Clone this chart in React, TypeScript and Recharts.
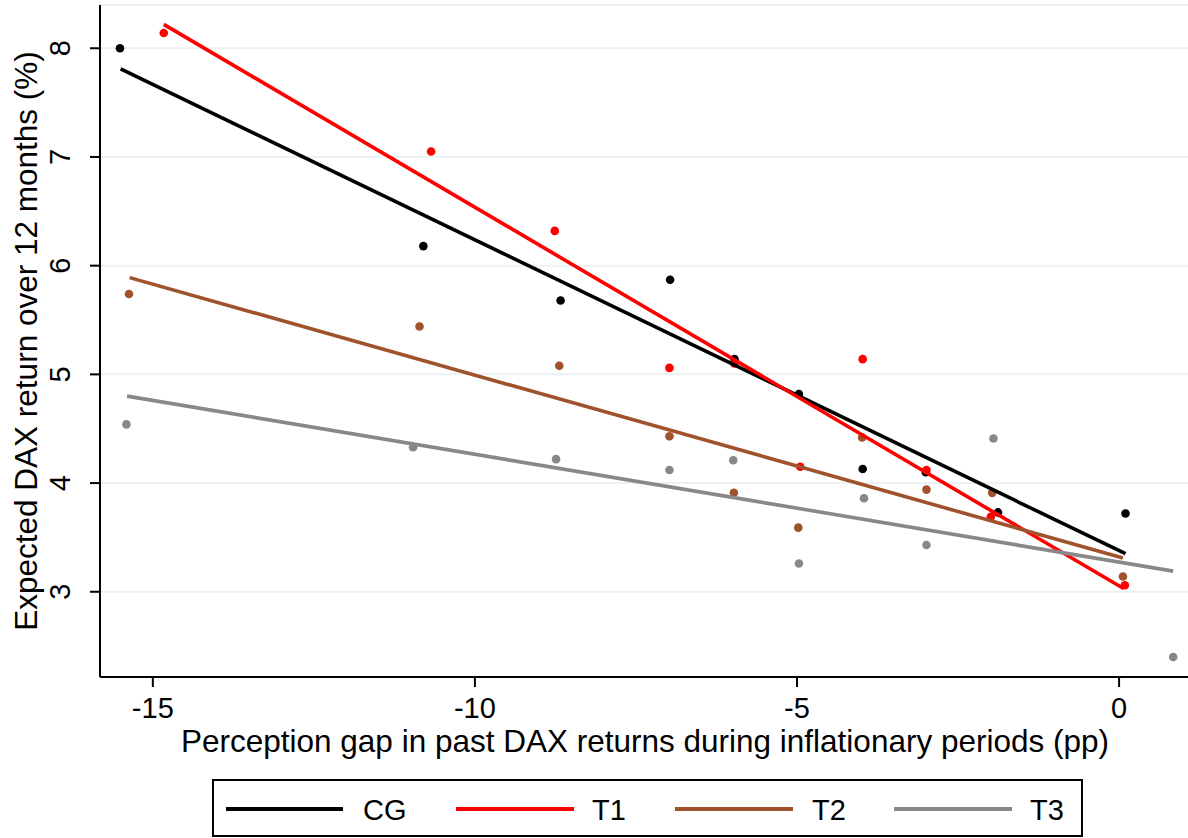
import { CartesianGrid, ComposedChart, Line, Scatter, XAxis, YAxis } from 'recharts';

// Expected DAX return vs. perception gap, by treatment group.
// Dots = group means per bin, lines = linear fits (endpoints).

const xTicks = [-15, -10, -5, 0];
const yTicks = [3, 4, 5, 6, 7, 8];

const cgPoints = [
  { x: -15.51, y: 8.0 },
  { x: -10.8, y: 6.18 },
  { x: -8.67, y: 5.68 },
  { x: -6.97, y: 5.87 },
  { x: -5.97, y: 5.14 },
  { x: -4.97, y: 4.82 },
  { x: -3.98, y: 4.13 },
  { x: -3.0, y: 4.1 },
  { x: -1.88, y: 3.73 },
  { x: 0.1, y: 3.72 },
];
const t1Points = [
  { x: -14.83, y: 8.14 },
  { x: -10.68, y: 7.05 },
  { x: -8.76, y: 6.32 },
  { x: -6.98, y: 5.06 },
  { x: -5.97, y: 5.1 },
  { x: -4.95, y: 4.15 },
  { x: -3.98, y: 5.14 },
  { x: -2.99, y: 4.12 },
  { x: -1.99, y: 3.69 },
  { x: 0.09, y: 3.06 },
];
const t2Points = [
  { x: -15.37, y: 5.74 },
  { x: -10.86, y: 5.44 },
  { x: -8.69, y: 5.08 },
  { x: -6.98, y: 4.43 },
  { x: -5.98, y: 3.91 },
  { x: -4.98, y: 3.59 },
  { x: -3.99, y: 4.42 },
  { x: -2.99, y: 3.94 },
  { x: -1.97, y: 3.91 },
  { x: 0.06, y: 3.14 },
];
const t3Points = [
  { x: -15.41, y: 4.54 },
  { x: -10.96, y: 4.33 },
  { x: -8.74, y: 4.22 },
  { x: -6.98, y: 4.12 },
  { x: -5.99, y: 4.21 },
  { x: -4.97, y: 3.26 },
  { x: -3.96, y: 3.86 },
  { x: -2.99, y: 3.43 },
  { x: -1.95, y: 4.41 },
  { x: 0.84, y: 2.4 },
];

// fitted lines, start and end
const cgFit = [{ x: -15.5, y: 7.81 }, { x: 0.1, y: 3.35 }];
const t1Fit = [{ x: -14.83, y: 8.22 }, { x: 0.07, y: 3.03 }];
const t2Fit = [{ x: -15.36, y: 5.89 }, { x: 0.06, y: 3.31 }];
const t3Fit = [{ x: -15.4, y: 4.8 }, { x: 0.84, y: 3.19 }];

const groups = [
  { name: 'CG', color: '#000000', points: cgPoints, fit: cgFit },
  { name: 'T1', color: '#ff0000', points: t1Points, fit: t1Fit },
  { name: 'T2', color: '#a0522d', points: t2Points, fit: t2Fit },
  { name: 'T3', color: '#888888', points: t3Points, fit: t3Fit },
];

const FONT = '"Liberation Sans", Arial, sans-serif';
const FS = 29; // tick labels, legend
const TFS = 31.5; // axis titles

// legend item x positions (line start, line end, text start)
const legendPos = [
  [226, 343, 363],
  [456, 574, 592],
  [675, 793, 812],
  [894, 1012, 1030],
];

export default function App() {
  return (
    <div style={{ position: 'absolute', left: 0, top: 0, width: 1188, height: 838, background: '#fff', fontFamily: FONT }}>
      <ComposedChart width={1188} height={838} margin={{ top: 5, right: 0, bottom: 0, left: 0 }}>
        <CartesianGrid vertical={false} stroke="#eaf2f3" strokeWidth={2} />
        <XAxis
          type="number"
          dataKey="x"
          domain={[-15.82, 1.07]}
          ticks={xTicks}
          allowDataOverflow
          height={161}
          tickSize={10}
          axisLine={{ stroke: '#000', strokeWidth: 2 }}
          tickLine={{ stroke: '#000', strokeWidth: 2 }}
          tick={(p: any) => (
            <text x={p.x} y={718} textAnchor="middle" fontSize={FS} fontFamily={FONT} fill="#000">
              {String(p.payload.value)}
            </text>
          )}
          label={{
            content: () => (
              <text x={645} y={752} textAnchor="middle" fontSize={TFS} fontFamily={FONT} fill="#000">
                Perception gap in past DAX returns during inflationary periods (pp)
              </text>
            ),
          }}
        />
        <YAxis
          type="number"
          dataKey="y"
          domain={[2.216, 8.398]}
          ticks={yTicks}
          allowDataOverflow
          width={100}
          tickSize={10}
          axisLine={{ stroke: '#000', strokeWidth: 2 }}
          tickLine={{ stroke: '#000', strokeWidth: 2 }}
          tick={(p: any) => (
            <text
              x={70}
              y={p.y}
              transform={`rotate(-90 70 ${p.y})`}
              textAnchor="middle"
              fontSize={FS}
              fontFamily={FONT}
              fill="#000"
            >
              {String(p.payload.value)}
            </text>
          )}
          label={{
            content: () => (
              <text
                x={37}
                y={341}
                transform="rotate(-90 37 341)"
                textAnchor="middle"
                fontSize={TFS}
                fontFamily={FONT}
                fill="#000"
              >
                Expected DAX return over 12 months (%)
              </text>
            ),
          }}
        />
        {groups.map((g) => (
          <Scatter
            key={'s' + g.name}
            name={g.name}
            data={g.points}
            isAnimationActive={false}
            zIndex={350}
            shape={(p: any) => <circle cx={p.cx} cy={p.cy} r={4.3} fill={g.color} />}
          />
        ))}
        {groups.map((g) => (
          <Line
            key={'l' + g.name}
            name={g.name}
            data={g.fit}
            dataKey="y"
            type="linear"
            stroke={g.color}
            strokeWidth={3.6}
            dot={false}
            activeDot={false}
            isAnimationActive={false}
            zIndex={400}
          />
        ))}
      </ComposedChart>
      <svg
        width={1188}
        height={838}
        style={{ position: 'absolute', left: 0, top: 0, pointerEvents: 'none' }}
      >
        <rect x={213} y={780} width={869} height={56} fill="none" stroke="#000" strokeWidth={2} />
        {groups.map((g, i) => (
          <g key={g.name}>
            <line x1={legendPos[i][0]} x2={legendPos[i][1]} y1={809} y2={809} stroke={g.color} strokeWidth={4} />
            <text x={legendPos[i][2]} y={820} fontSize={FS} fontFamily={FONT} fill="#000">
              {g.name}
            </text>
          </g>
        ))}
      </svg>
    </div>
  );
}
